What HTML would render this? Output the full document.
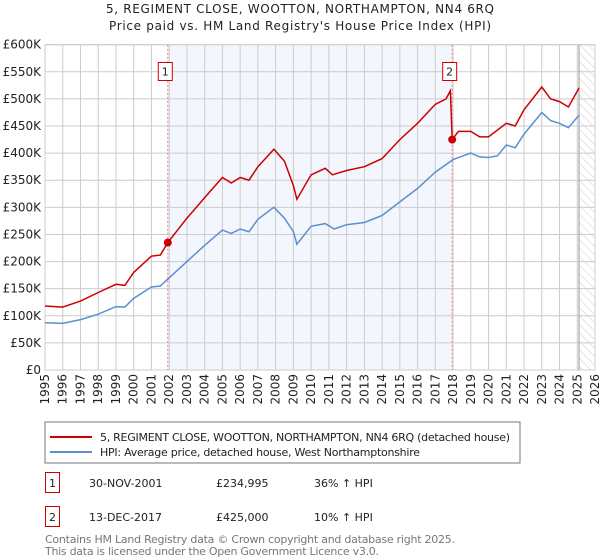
<!DOCTYPE html>
<html><head><meta charset="utf-8"><style>
body{margin:0;width:600px;height:560px;background:#fff;font-family:"DejaVu Sans","Liberation Sans",sans-serif;overflow:hidden}
svg{position:absolute;left:0;top:0}
</style></head><body>
<svg width="600" height="560">
<text x="300" y="13" text-anchor="middle" font-size="12" fill="#222" textLength="388">5, REGIMENT CLOSE, WOOTTON, NORTHAMPTON, NN4 6RQ</text>
<text x="300" y="30" text-anchor="middle" font-size="12" fill="#222" textLength="382">Price paid vs. HM Land Registry's House Price Index (HPI)</text>
<g id="plot"></g>
<rect x="45" y="422" width="475" height="41" fill="#fff" stroke="#777"/>
<line x1="50" y1="437" x2="92" y2="437" stroke="#cc0000" stroke-width="2"/>
<text x="100" y="441" font-size="11" fill="#222" textLength="410">5, REGIMENT CLOSE, WOOTTON, NORTHAMPTON, NN4 6RQ (detached house)</text>
<line x1="50" y1="452" x2="92" y2="452" stroke="#5b8fd0" stroke-width="2"/>
<text x="100" y="456" font-size="11" fill="#222" textLength="320">HPI: Average price, detached house, West Northamptonshire</text>
<rect x="45.5" y="472.5" width="14" height="20" fill="#fff" stroke="#cc0000"/>
<text x="52.5" y="487" font-size="11" text-anchor="middle" fill="#222">1</text>
<text x="89" y="487" font-size="11" fill="#222">30-NOV-2001</text>
<text x="216" y="487" font-size="11" fill="#222">£234,995</text>
<text x="314" y="487" font-size="11" fill="#222">36% ↑ HPI</text>
<rect x="45.5" y="506.5" width="14" height="20" fill="#fff" stroke="#cc0000"/>
<text x="52.5" y="521" font-size="11" text-anchor="middle" fill="#222">2</text>
<text x="89" y="521" font-size="11" fill="#222">13-DEC-2017</text>
<text x="216" y="521" font-size="11" fill="#222">£425,000</text>
<text x="314" y="521" font-size="11" fill="#222">10% ↑ HPI</text>
<text x="45" y="543" font-size="11" fill="#777" textLength="410">Contains HM Land Registry data © Crown copyright and database right 2025.</text>
<text x="45" y="555" font-size="11" fill="#777" textLength="334">This data is licensed under the Open Government Licence v3.0.</text>
</svg>
<script>
const yTicks=[0,50,100,150,200,250,300,350,400,450,500,550,600];
const yTickLabels=["£0","£50K","£100K","£150K","£200K","£250K","£300K","£350K","£400K","£450K","£500K","£550K","£600K"];
const xTicks=[1995,1996,1997,1998,1999,2000,2001,2002,2003,2004,2005,2006,2007,2008,2009,2010,2011,2012,2013,2014,2015,2016,2017,2018,2019,2020,2021,2022,2023,2024,2025,2026];
const hpiYears=[1995,1996,1997,1998,1999,1999.5,2000,2001,2001.5,2002,2003,2004,2005,2005.5,2006,2006.5,2007,2007.9,2008.5,2009,2009.2,2010,2010.8,2011.3,2012,2013,2014,2015,2016,2017,2018,2019,2019.5,2020,2020.5,2021,2021.5,2022,2023,2023.5,2024,2024.5,2025.1];
const hpiValues=[87,86,93,103,117,116,132,153,155,170,200,230,258,252,260,255,278,300,280,255,232,265,270,260,268,272,285,310,335,365,388,400,393,392,395,415,410,435,475,460,455,447,470];
const propYears=[1995,1996,1997,1998,1999,1999.5,2000,2001,2001.5,2001.92,2003,2004,2005,2005.5,2006,2006.5,2007,2007.9,2008.5,2009,2009.2,2010,2010.8,2011.2,2012,2013,2014,2015,2016,2017,2017.6,2017.85,2017.95,2018.3,2019,2019.5,2020,2021,2021.5,2022,2023,2023.5,2024,2024.5,2025.1];
const propValues=[118,116,127,143,158,156,180,210,212,235,280,318,355,345,355,350,375,407,385,340,315,360,372,360,368,375,390,425,455,490,500,515,425,440,440,430,430,455,450,480,522,500,495,485,520];
const saleYears=[2001.92,2017.95];
const saleValues=[234.995,425];
const saleLabels=["1","2"];
const L=45,R=595,T=44.7,B=370,X0=1995,X1=2026,YMAX=600;
const xs=v=>L+(v-X0)/(X1-X0)*(R-L);
const ys=v=>B-v/YMAX*(B-T);
const g=document.getElementById('plot');
const NS='http://www.w3.org/2000/svg';
function mk(t,a){const e=document.createElementNS(NS,t);for(const k in a)e.setAttribute(k,a[k]);g.appendChild(e);return e;}
let e;
e=mk('rect',{x:L,y:T,width:R-L,height:B-T,fill:'#fff',stroke:'#ccc'});


e=mk('rect',{x:xs(saleYears[0]),y:T,width:xs(saleYears[1])-xs(saleYears[0]),height:B-T,fill:'#f3f6fd'});


const defs=mk('defs',{});
defs.innerHTML='<pattern id="hatch" width="6" height="6" patternUnits="userSpaceOnUse" patternTransform="rotate(-45)"><line x1="0" y1="0" x2="0" y2="6" stroke="#ccc" stroke-width="1"/></pattern>';
e=mk('rect',{x:xs(2025.1),y:T,width:R-xs(2025.1),height:B-T,fill:'url(#hatch)'});


yTicks.forEach((v,i)=>{
 e=mk('line',{x1:L,x2:R,y1:ys(v),y2:ys(v),stroke:'#ccc'});
 
 
 e=mk('text',{x:L-4,y:ys(v)+4,'text-anchor':'end','font-size':12,fill:'#222'});
 e.textContent=yTickLabels[i];
 
 
});
xTicks.forEach(v=>{
 e=mk('line',{x1:xs(v),x2:xs(v),y1:T,y2:B,stroke:'#ccc'});
 
 
 const x=xs(v),y=B+4;
 e=mk('text',{x:x+4,y:y,'text-anchor':'end','font-size':12,fill:'#222',transform:`rotate(-90 ${x+4} ${y})`});
 e.textContent=v;
 
 
});
e=mk('line',{x1:xs(2025.1),x2:xs(2025.1),y1:T,y2:B,stroke:'#999'});


saleYears.forEach((v,i)=>{
 e=mk('line',{x1:xs(v),x2:xs(v),y1:T,y2:B,stroke:'#f08080','stroke-dasharray':'2,2'});
 
 
});
function path(xa,ya,c,n){
 const d=xa.map((x,i)=>(i?'L':'M')+xs(x).toFixed(1)+','+ys(ya[i]).toFixed(1)).join('');
 const p=mk('path',{d:d,fill:'none',stroke:c,'stroke-width':1.5});
 
 
}
path(hpiYears,hpiValues,'#5b8fd0','hpi-line');
path(propYears,propValues,'#cc0000','property-line');
saleYears.forEach((v,i)=>{
 e=mk('circle',{cx:xs(v),cy:ys(saleValues[i]),r:4,fill:'#cc0000'});
 
 
 e=mk('rect',{x:xs(v)-9.5,y:62.5,width:14,height:18,fill:'#fff',stroke:'#cc0000'});
 
 
 e=mk('text',{x:xs(v)-2.5,y:75.5,'text-anchor':'middle','font-size':11,fill:'#222'});
 e.textContent=saleLabels[i];
 
 
});
</script>
</body></html>
